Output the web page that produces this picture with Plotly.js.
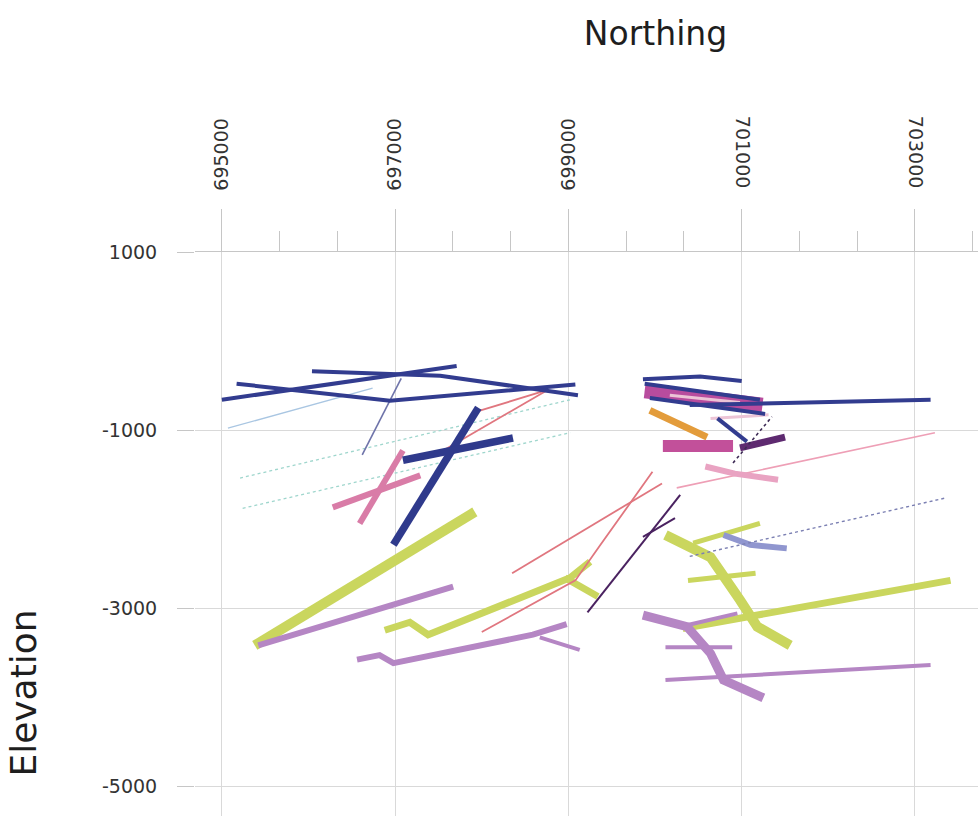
<!DOCTYPE html>
<html>
<head>
<meta charset="utf-8">
<script src="https://cdn.plot.ly/plotly-3.0.1.min.js"></script>
<style>
  html, body { margin: 0; padding: 0; overflow: hidden; background: #fff; }
</style>
</head>
<body>
<div id="chart"></div>
<script>
// Axis ticks
const northTicksA = [695000, 697000, 699000];
const northLabelsA = ['695000', '697000', '699000'];
const northTicksB = [701000, 703000];
const northLabelsB = ['701000', '703000'];
const elevTicks = [1000, -1000, -3000, -5000];
const elevLabels = ['1000', '-1000', '-3000', '-5000'];

// Section traces: northing / elevation pairs, null separates segments
const navyN = [695000, 697710, null, 695170, 696940, 699080, null, 696040, 697520, 699110, null,
               699860, 700520, 701000, null, 699880, 701210, null, 699940, 701270, null,
               700720, 701060, null, 700400, 703180];
const navyE = [-660, -280, null, -480, -670, -490, null, -340, -390, -610, null,
               -430, -400, -450, null, -480, -660, null, -640, -820, null,
               -870, -1130, null, -720, -660];

const navyHeavyN = [697960, 696980, null, 697090, 698360];
const navyHeavyE = [-750, -2290, null, -1340, -1090];

const slateN = [697070, 696620];
const slateE = [-420, -1280];

const paleBlueN = [695070, 696740];
const paleBlueE = [-980, -530];

const tealN = [695210, 699020, null, 695240, 699020];
const tealE = [-1540, -660, null, -1880, -1030];

const redN = [697520, 698760, null, 697920, 698760, null, 698350, 700080, null, 698000, 699080, 699370, 699970];
const redE = [-1250, -550, null, -800, -550, null, -2610, -1600, null, -3270, -2690, -2290, -1470];

const roseThinN = [700250, 703230];
const roseThinE = [-1650, -1030];

const pinkN = [696280, 697290, null, 696590, 697090];
const pinkE = [-1870, -1510, null, -2050, -1230];

const pinkBlobN = [700580, 700920, 701420];
const pinkBlobE = [-1410, -1490, -1560];

const blushN = [700640, 701310, null, 700170, 700980];
const blushE = [-870, -830, null, -610, -690];

const limeWideN = [695380, 697920, null, 700120, 700640, 700980, 701180, 701560];
const limeWideE = [-3420, -1920, null, -2180, -2430, -2910, -3210, -3420];

const limeN = [696880, 697170, 697380, 699020, 699250, null, 698960, 699340, null, 700320, 703410];
const limeE = [-3250, -3160, -3300, -2660, -2480, null, -2660, -2870, null, -3230, -2690];

const limeThinN = [700380, 701160, null, 700440, 701210];
const limeThinE = [-2690, -2610, null, -2270, -2050];

const orchidN = [695420, 697670, null, 696560, 696820, 696980, 698590, 698980];
const orchidE = [-3420, -2760, null, -3580, -3530, -3620, -3300, -3180];

const orchidWideN = [699860, 700370, 700640, 700790, 701250];
const orchidWideE = [-3080, -3210, -3510, -3810, -4010];

const orchidThinN = [698670, 699130, null, 700120, 700890, null, 700120, 703180, null, 700290, 700950];
const orchidThinE = [-3330, -3470, null, -3440, -3440, null, -3810, -3640, null, -3210, -3060];

const periN = [700790, 701100, 701520];
const periE = [-2180, -2290, -2330];

const slateDotN = [700400, 703370];
const slateDotE = [-2420, -1760];

const magentaN = [699880, 701240];
const magentaE = [-560, -720];

const magentaBarN = [700090, 700900];
const magentaBarE = [-1180, -1180];

const orangeN = [699940, 700600];
const orangeE = [-780, -1080];

const plumN = [699220, 700290, null, 699860, 700230];
const plumE = [-3050, -1730, null, -2200, -1990];

const plumBlobN = [700980, 701500];
const plumBlobE = [-1200, -1080];

const plumDotN = [700900, 701350];
const plumDotE = [-1370, -850];

// Drawing order and line styles for each group
const groups = [
  [paleBlueN, paleBlueE, '#a9c6e2', 1.3, 'solid'],
  [tealN, tealE, '#9fd6cd', 1.3, 'dot'],
  [slateN, slateE, '#6f74aa', 1.6, 'solid'],
  [limeWideN, limeWideE, '#cad65e', 10, 'solid'],
  [limeN, limeE, '#cad65e', 7, 'solid'],
  [limeThinN, limeThinE, '#cad65e', 5, 'solid'],
  [orchidN, orchidE, '#b586c4', 6, 'solid'],
  [orchidWideN, orchidWideE, '#b586c4', 9, 'solid'],
  [orchidThinN, orchidThinE, '#b586c4', 4, 'solid'],
  [periN, periE, '#9096cf', 6, 'solid'],
  [slateDotN, slateDotE, '#7c80b3', 1.4, 'dot'],
  [roseThinN, roseThinE, '#ee9fb6', 1.6, 'solid'],
  [redN, redE, '#e0767f', 1.8, 'solid'],
  [pinkN, pinkE, '#d97ca7', 6, 'solid'],
  [pinkBlobN, pinkBlobE, '#e9a3c2', 6, 'solid'],
  [magentaBarN, magentaBarE, '#c2509a', 12, 'solid'],
  [orangeN, orangeE, '#e39c3b', 7, 'solid'],
  [magentaN, magentaE, '#b84c9e', 15, 'solid'],
  [blushN, blushE, '#ecc4d6', 3, 'solid'],
  [plumBlobN, plumBlobE, '#5e2a70', 7, 'solid'],
  [plumN, plumE, '#4a2260', 2, 'solid'],
  [plumDotN, plumDotE, '#3d2a55', 1.6, 'dot'],
  [navyN, navyE, '#323c8f', 4, 'solid'],
  [navyHeavyN, navyHeavyE, '#2f3a8c', 7.5, 'solid']
];

const traces = groups.map(([xs, ys, color, width, dash]) => ({
  type: 'scatter',
  mode: 'lines',
  x: xs,
  y: ys,
  connectgaps: false,
  line: { color: color, width: width, dash: dash },
  hoverinfo: 'skip',
  showlegend: false
}));

const northRange = [694690, 705320];
const tickFont = { family: 'DejaVu Sans', size: 19, color: '#333' };
const lineGrey = '#c6c6c6';
const gridGrey = '#d9d9d9';

const topAxis = (vals, labels, angle) => ({
  side: 'top',
  range: northRange,
  tickmode: 'array',
  tickvals: vals,
  ticktext: labels,
  tickangle: angle,
  ticks: 'outside',
  ticklen: 42,
  tickwidth: 1,
  tickcolor: lineGrey,
  tickfont: tickFont,
  ticklabelstandoff: 14,
  showgrid: true,
  gridcolor: gridGrey,
  gridwidth: 1,
  zeroline: false,
  fixedrange: true
});

const xaxis = Object.assign(topAxis(northTicksA, northLabelsA, -90), {
  showline: true,
  linecolor: lineGrey,
  linewidth: 1.5,
  minor: {
    tickmode: 'linear',
    tick0: 695000,
    dtick: 2000 / 3,
    ticks: 'outside',
    ticklen: 20,
    tickwidth: 1,
    tickcolor: lineGrey,
    showgrid: false
  },
  title: {
    text: 'Northing',
    font: { family: 'DejaVu Sans', size: 33, color: '#1e1e1e' },
    standoff: 62
  }
});

const xaxis2 = Object.assign(topAxis(northTicksB, northLabelsB, 90), {
  overlaying: 'x',
  anchor: 'y',
  showline: false
});

const layout = {
  width: 1116,
  height: 1134,
  margin: { l: 195, r: 0, t: 252, b: 0, pad: 0 },
  paper_bgcolor: '#ffffff',
  plot_bgcolor: '#ffffff',
  showlegend: false,
  font: { family: 'DejaVu Sans', color: '#333' },
  xaxis: xaxis,
  xaxis2: xaxis2,
  yaxis: {
    range: [-8910, 1000],
    tickmode: 'array',
    tickvals: elevTicks,
    ticktext: elevLabels,
    ticks: 'outside',
    ticklen: 17,
    tickwidth: 1,
    tickcolor: lineGrey,
    tickfont: tickFont,
    ticklabelstandoff: 16,
    showgrid: true,
    gridcolor: gridGrey,
    gridwidth: 1,
    zeroline: false,
    showline: false,
    fixedrange: true,
    title: {
      text: 'Elevation',
      font: { family: 'DejaVu Sans', size: 36, color: '#1e1e1e' },
      standoff: 54
    }
  }
};

// keep the second top axis drawn
traces.push({ type: 'scatter', mode: 'lines', x: [], y: [], xaxis: 'x2', yaxis: 'y', showlegend: false, hoverinfo: 'skip' });

Plotly.newPlot('chart', traces, layout, { staticPlot: true, displayModeBar: false });
</script>
</body>
</html>
